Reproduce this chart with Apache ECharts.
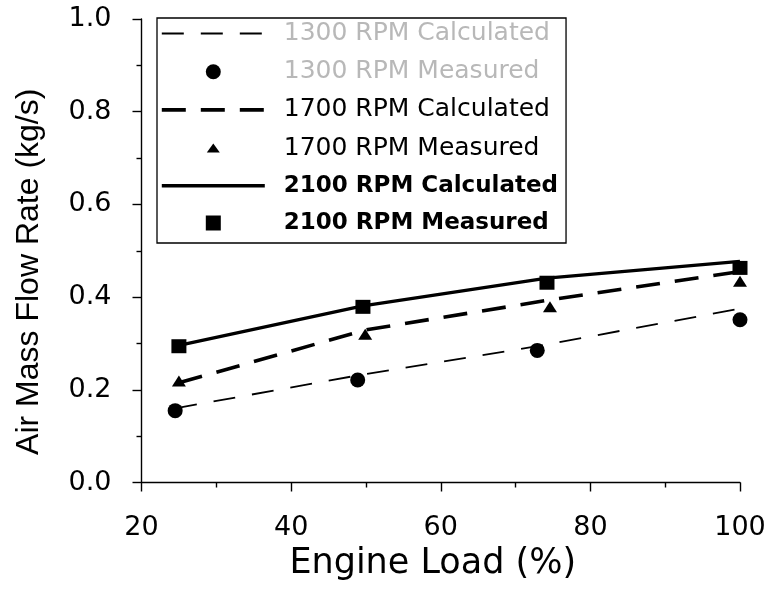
<!DOCTYPE html>
<html>
<head>
<meta charset="utf-8">
<script src="https://cdn.jsdelivr.net/npm/echarts@6/dist/echarts.min.js"></script>
<style>
  html, body { margin: 0; padding: 0; background: #fff; }
  #chart { width: 773px; height: 590px; }
</style>
</head>
<body>
<div id="chart"></div>
<script>
// ---- data ----
const seriesNames = [
  '1300 RPM Calculated', '1300 RPM Measured',
  '1700 RPM Calculated', '1700 RPM Measured',
  '2100 RPM Calculated', '2100 RPM Measured'
];
const load1300 = [24.5, 48.9, 72.9, 100];
const load1700 = [25, 49.9, 74.6, 100];
const load2100 = [25, 49.6, 74.2, 100];
const calc1300 = [0.160, 0.231, 0.294, 0.375];
const meas1300 = [0.155, 0.221, 0.285, 0.351];
const calc1700 = [0.215, 0.329, 0.394, 0.455];
const meas1700 = [0.219, 0.320, 0.379, 0.434];
const calc2100 = [0.296, 0.381, 0.441, 0.477];
const meas2100 = [0.294, 0.379, 0.431, 0.463];
const xTicks = [20, 40, 60, 80, 100];
const yTicks = [0.0, 0.2, 0.4, 0.6, 0.8, 1.0];
const xTitle = 'Engine Load (%)';
const yTitle = 'Air Mass Flow Rate (kg/s)';

const pair = (xs, ys) => xs.map((x, i) => [x, ys[i]]);

const chart = echarts.init(document.getElementById('chart'), null, { renderer: 'canvas' });

const axisCommon = {
  axisLine: { show: true, onZero: false, lineStyle: { color: '#000', width: 1.4 } },
  axisTick: { show: true, inside: false, length: 9, lineStyle: { color: '#000', width: 1.4 } },
  minorTick: { show: true, splitNumber: 2, length: 5, lineStyle: { color: '#000', width: 1.4 } },
  splitLine: { show: false },
  minorSplitLine: { show: false }
};

const style1300 = { color: '#000', width: 1.8, type: [22, 17] };
const style1700 = { color: '#000', width: 3.6, type: [24, 15] };
const style2100 = { color: '#000', width: 3.4, type: 'solid' };

const option = {
  animation: false,
  backgroundColor: '#fff',
  grid: { left: 141.5, right: 33, top: 19, bottom: 107.5, containLabel: false },
  xAxis: Object.assign({
    type: 'value',
    min: xTicks[0], max: xTicks[xTicks.length - 1], interval: 20,
    name: xTitle, nameLocation: 'middle', nameGap: 61,
    nameTextStyle: { fontFamily: 'DejaVu Sans', fontSize: 35, color: '#000', padding: [0, 16, 0, 0] },
    axisLabel: { fontFamily: 'DejaVu Sans', fontSize: 27, color: '#000', margin: 32 }
  }, axisCommon),
  yAxis: Object.assign({
    type: 'value',
    min: yTicks[0], max: yTicks[yTicks.length - 1], interval: 0.2,
    name: yTitle, nameLocation: 'middle', nameGap: 96,
    nameTextStyle: { fontFamily: 'Liberation Sans', fontSize: 32, color: '#000', padding: [0, 42, 0, 0] },
    axisLabel: { fontFamily: 'DejaVu Sans', fontSize: 27, color: '#000', margin: 30,
      formatter: v => v.toFixed(1) }
  }, axisCommon),
  legend: {
    orient: 'vertical',
    left: 157, top: 18,
    itemWidth: 103, itemHeight: 15, itemGap: 13.2,
    padding: [3, 8, 8, 3],
    borderColor: '#000', borderWidth: 1.3,
    symbolKeepAspect: true,
    textStyle: { fontFamily: 'DejaVu Sans', fontSize: 25, lineHeight: 24, color: '#000', padding: [0, 0, 0, 14] },
    data: [
      { name: seriesNames[0], itemStyle: { opacity: 0 }, lineStyle: style1300, textStyle: { color: '#b8b8b8' } },
      { name: seriesNames[1], icon: 'circle', itemStyle: { color: '#000', opacity: 1 }, textStyle: { color: '#b8b8b8' } },
      { name: seriesNames[2], itemStyle: { opacity: 0 }, lineStyle: style1700, textStyle: { color: '#000' } },
      { name: seriesNames[3], icon: 'path://M0,0M15,15M1,12L7.5,3L14,12Z', itemStyle: { color: '#000', opacity: 1 }, textStyle: { color: '#000' } },
      { name: seriesNames[4], itemStyle: { opacity: 0 }, lineStyle: style2100, textStyle: { color: '#000', fontWeight: 'bold', fontSize: 23 } },
      { name: seriesNames[5], icon: 'path://M0,0L10,0L10,10L0,10Z', itemStyle: { color: '#000', opacity: 1 }, textStyle: { color: '#000', fontWeight: 'bold', fontSize: 23 } }
    ]
  },
  series: [
    { name: seriesNames[0], type: 'line', data: pair(load1300, calc1300), symbol: 'none',
      color: '#000', lineStyle: style1300, z: 2 },
    { name: seriesNames[2], type: 'line', data: pair(load1700, calc1700), symbol: 'none',
      color: '#000', lineStyle: style1700, z: 2 },
    { name: seriesNames[4], type: 'line', data: pair(load2100, calc2100), symbol: 'none',
      color: '#000', lineStyle: style2100, z: 2 },
    { name: seriesNames[1], type: 'scatter', data: pair(load1300, meas1300), symbol: 'circle', symbolSize: 15,
      itemStyle: { color: '#000', opacity: 1 }, z: 3 },
    { name: seriesNames[3], type: 'scatter', data: pair(load1700, meas1700), symbol: 'triangle', symbolSize: [14, 11],
      itemStyle: { color: '#000', opacity: 1 }, z: 3 },
    { name: seriesNames[5], type: 'scatter', data: pair(load2100, meas2100), symbol: 'rect', symbolSize: [15, 14],
      itemStyle: { color: '#000', opacity: 1 }, z: 3 }
  ]
};
chart.setOption(option);
</script>
</body>
</html>
